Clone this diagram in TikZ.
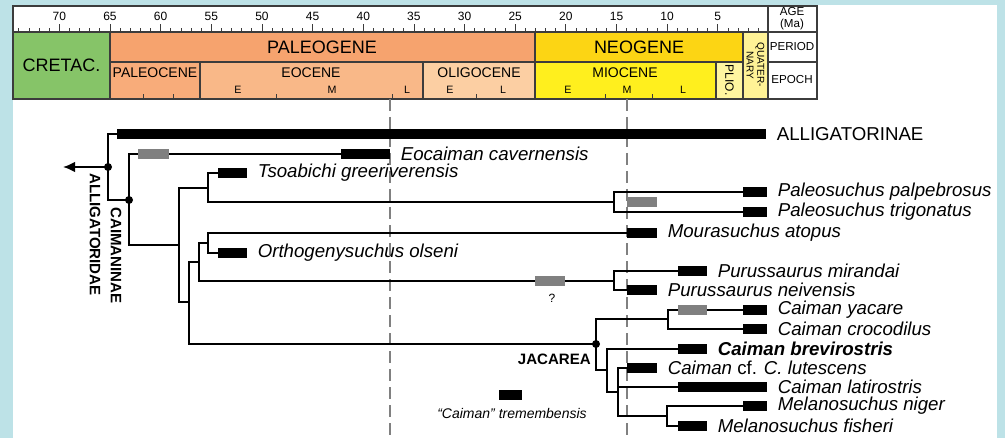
\documentclass[tikz,border=0pt]{standalone}
\usepackage{fontspec}
\setmainfont{Liberation Sans}
\usepackage{tikz}
\usetikzlibrary{positioning, arrows.meta}

\definecolor{bgblue}{RGB}{189,226,231}
\definecolor{cretac}{RGB}{134,196,104}
\definecolor{paleogene}{RGB}{246,163,110}
\definecolor{paleocene}{RGB}{248,172,122}
\definecolor{eocene}{RGB}{249,184,136}
\definecolor{oligocene}{RGB}{252,207,163}
\definecolor{neogene}{RGB}{252,213,20}
\definecolor{miocene}{RGB}{255,239,30}
\definecolor{pliocene}{RGB}{255,245,160}
\definecolor{quaternary}{RGB}{255,242,150}
\definecolor{ghost}{RGB}{128,128,128}
\definecolor{frame}{RGB}{60,60,60}

\begin{document}
\begin{tikzpicture}[>={Latex[length=9pt, width=8pt]}, x=0.75pt, y=-0.75pt,
    cell/.style={draw=frame, line width=0.8pt},
    branch/.style={line width=1.4pt},
    blk/.style={fill=black, inner sep=0pt, minimum height=7.8pt, anchor=west, minimum width=#1*0.75pt},
    gry/.style={blk=#1, fill=ghost},
    taxon/.style={font=\fontsize{14}{16}\selectfont\itshape, inner sep=1pt},
    clade/.style={font=\fontsize{11.3}{12}\selectfont\bfseries, inner sep=0pt},
    timeline/.style={draw=ghost, line width=1.5pt, dash pattern=on 9pt off 4.5pt},
    num/.style={font=\fontsize{9}{10}\selectfont, inner sep=0pt},
    period/.style={font=\fontsize{13.5}{14}\selectfont, inner sep=0pt},
    epoch/.style={font=\fontsize{10.5}{11}\selectfont, inner sep=0pt},
    sub/.style={font=\fontsize{8}{9}\selectfont, inner sep=0pt},
    head/.style={font=\fontsize{8.7}{9}\selectfont, inner sep=0pt, align=center}]

    % Nền
    \fill[bgblue] (0,0) rectangle (1005,438);
    \fill[white] (13,5) rectangle (997,438);
    \useasboundingbox (0,0) rectangle (1005,438);

    % Thang thời gian
    \fill[cretac] (13,32) rectangle (110,99);
    \fill[paleogene] (110,32) rectangle (535,62);
    \fill[paleocene] (110,62) rectangle (200,99);
    \fill[eocene] (200,62) rectangle (423,99);
    \fill[oligocene] (423,62) rectangle (535,99);
    \fill[neogene] (535,32) rectangle (743,62);
    \fill[miocene] (535,62) rectangle (716,99);
    \fill[pliocene] (716,62) rectangle (743,99);
    \fill[quaternary] (743,32) rectangle (768,99);

    \draw[cell] (13,6) rectangle (817,99);
    \draw[cell] (13,32) -- (817,32);
    \draw[cell] (110,62) -- (743,62) (768,62) -- (817,62);
    \draw[cell] (110,32) -- (110,99) (535,32) -- (535,99) (743,32) -- (743,99) (768,6) -- (768,99);
    \draw[cell] (200,62) -- (200,99) (423,62) -- (423,99) (716,62) -- (716,99);

    \foreach \a in {1,...,74}
        \draw[frame, line width=0.6pt] ({768.45-10.13*\a},32) -- ++(0,-4);
    \foreach \a in {5,10,...,70}{
        \draw[frame, line width=0.6pt] ({768.45-10.13*\a},32) -- ++(0,-8);
        \node[num] (age\a) at ({768.45-10.13*\a},16) {\a};
    }
    \foreach \x in {143,173,276,392,476,605,652}
        \draw[frame, line width=0.6pt] (\x,99) -- ++(0,-5);

    \node[head] (agehd) at (792,19) {AGE\\(Ma)};
    \node[head] (perhd) at (792,47) {PERIOD};
    \node[head] (epohd) at (792,80) {EPOCH};

    \node[period] (cre) at (61.5,65) {CRETAC.};
    \node[period] (pgn) at (322,47) {PALEOGENE};
    \node[period] (ngn) at (639,47) {NEOGENE};
    \node[font=\fontsize{7.5}{8}\selectfont, inner sep=0pt, align=center, rotate=-90] (qua) at (755.5,65) {QUATER-\\NARY};
    \node[epoch, font=\fontsize{9}{10}\selectfont, rotate=-90] (pli) at (729.5,80) {PLIO.};
    \node[epoch] (pal) at (155,73) {PALEOCENE};
    \node[epoch] (eoc) at (311,73) {EOCENE};
    \node[epoch] (oli) at (479,73) {OLIGOCENE};
    \node[epoch] (mio) at (625,73) {MIOCENE};
    \foreach \x/\t [count=\i] in {238/E,332/M,407/L,450/E,503/L,568/E,627/M,683/L}
        \node[sub] (sub\i) at (\x,90) {\t};

    % Đường đứt nét
    \draw[timeline] (390,99) -- (390,438);
    \draw[timeline] (627,99) -- (627,438);

    % Các nút trong
    \coordinate (root) at (108,167);
    \coordinate (rootend) at (63,167);
    \coordinate (caim) at (129,200);
    \coordinate (n3) at (179,245);
    \coordinate (n4) at (208,188);
    \coordinate (paleo) at (614,202);
    \coordinate (n5) at (189,302);
    \coordinate (n6) at (199,262);
    \coordinate (n7) at (208,243);
    \coordinate (puru) at (614,281);
    \coordinate (jac) at (596,344);
    \coordinate (cai) at (668,319);
    \coordinate (n8) at (607,370);
    \coordinate (n9) at (618,392);
    \coordinate (mel) at (667,416);

    % Các thanh (khoảng tồn tại)
    \node[blk=649] (alli) at (117,134) {};
    \node[blk=49] (eoca) at (341,154) {};
    \node[blk=29] (tsoa) at (218,173) {};
    \node[blk=24] (palp) at (743,192) {};
    \node[blk=24] (trig) at (743,212) {};
    \node[blk=30] (mour) at (627,233) {};
    \node[blk=29] (orth) at (218,253) {};
    \node[blk=29] (mira) at (678,271) {};
    \node[blk=30] (neiv) at (627,290) {};
    \node[blk=24] (yaca) at (743,310) {};
    \node[blk=24] (croc) at (743,329) {};
    \node[blk=29] (brev) at (678,349) {};
    \node[blk=30] (lute) at (627,368) {};
    \node[blk=89] (lati) at (678,387) {};
    \node[blk=24] (nige) at (743,406) {};
    \node[blk=29] (fish) at (678,426) {};
    \node[blk=23] (trem) at (499,395) {};

    % Các nhánh
    \draw[branch, ->] (root) -- (rootend);
    \draw[branch] (alli.west) -| (root) |- (caim);
    \draw[branch] (caim) |- (eoca.west);
    \draw[branch] (caim) |- (n3);
    \draw[branch] (n3) |- (n4);
    \draw[branch] (n4) |- (tsoa.west);
    \draw[branch] (n4) |- (paleo);
    \draw[branch] (paleo) |- (palp.west);
    \draw[branch] (paleo) |- (trig.west);
    \draw[branch] (n3) |- (n5);
    \draw[branch] (n5) |- (n6);
    \draw[branch] (n6) |- (n7);
    \draw[branch] (n7) |- (mour.west);
    \draw[branch] (n7) |- (orth.west);
    \draw[branch] (n6) |- (puru);
    \draw[branch] (puru) |- (mira.west);
    \draw[branch] (puru) |- (neiv.west);
    \draw[branch] (n5) |- (jac);
    \draw[branch] (jac) |- (cai);
    \draw[branch] (cai) |- (yaca.west);
    \draw[branch] (cai) |- (croc.west);
    \draw[branch] (jac) |- (n8);
    \draw[branch] (n8) |- (brev.west);
    \draw[branch] (n8) |- (n9);
    \draw[branch] (n9) |- (lute.west);
    \draw[branch] (n9) |- (lati.west);
    \draw[branch] (n9) |- (mel);
    \draw[branch] (mel) |- (nige.west);
    \draw[branch] (mel) |- (fish.west);

    \fill (root) circle (3pt);
    \fill (caim) circle (3pt);
    \fill (jac) circle (3pt);

    % Thanh xám
    \node[gry=31] (g1) at (138,154) {};
    \node[gry=30] (g2) at (627,202) {};
    \node[gry=30] (g3) at (535,281) {};
    \node[gry=29] (g4) at (678,310) {};
    \node[font=\fontsize{9}{10}\selectfont, inner sep=0pt] (qm) at (552,298) {?};

    % Nhãn
    \node[taxon, font=\fontsize{14}{16}\selectfont, right=6.5pt of alli] (lalli) {ALLIGATORINAE};
    \node[taxon, right=6.5pt of eoca] (leoca) {Eocaiman cavernensis};
    \node[taxon, right=6.5pt of tsoa] (ltsoa) {Tsoabichi greeriverensis};
    \node[taxon, right=6.5pt of palp] (lpalp) {Paleosuchus palpebrosus};
    \node[taxon, right=6.5pt of trig] (ltrig) {Paleosuchus trigonatus};
    \node[taxon, right=6.5pt of mour] (lmour) {Mourasuchus atopus};
    \node[taxon, right=6.5pt of orth] (lorth) {Orthogenysuchus olseni};
    \node[taxon, right=6.5pt of mira] (lmira) {Purussaurus mirandai};
    \node[taxon, right=6.5pt of neiv] (lneiv) {Purussaurus neivensis};
    \node[taxon, right=6.5pt of yaca] (lyaca) {Caiman yacare};
    \node[taxon, right=6.5pt of croc] (lcroc) {Caiman crocodilus};
    \node[taxon, font=\fontsize{14}{16}\selectfont\bfseries\itshape, right=6.5pt of brev] (lbrev) {Caiman brevirostris};
    \node[taxon, right=6.5pt of lute] (llute) {Caiman {\upshape cf.} C. lutescens};
    \node[taxon, right=6.5pt of lati] (llati) {Caiman latirostris};
    \node[taxon, right=6.5pt of nige] (lnige) {Melanosuchus niger};
    \node[taxon, right=6.5pt of fish] (lfish) {Melanosuchus fisheri};
    \node[font=\fontsize{10.5}{12}\selectfont\itshape, inner sep=0pt] (ltrem) at (512,413) {``Caiman'' tremembensis};

    \node[clade, rotate=-90, anchor=west] (lcaim) at (116,207) {CAIMANINAE};
    \node[clade, rotate=-90, anchor=west] (lalg) at (95,173) {ALLIGATORIDAE};
    \node[clade, anchor=east] (ljac) at (591,359) {JACAREA};
\end{tikzpicture}
\end{document}
